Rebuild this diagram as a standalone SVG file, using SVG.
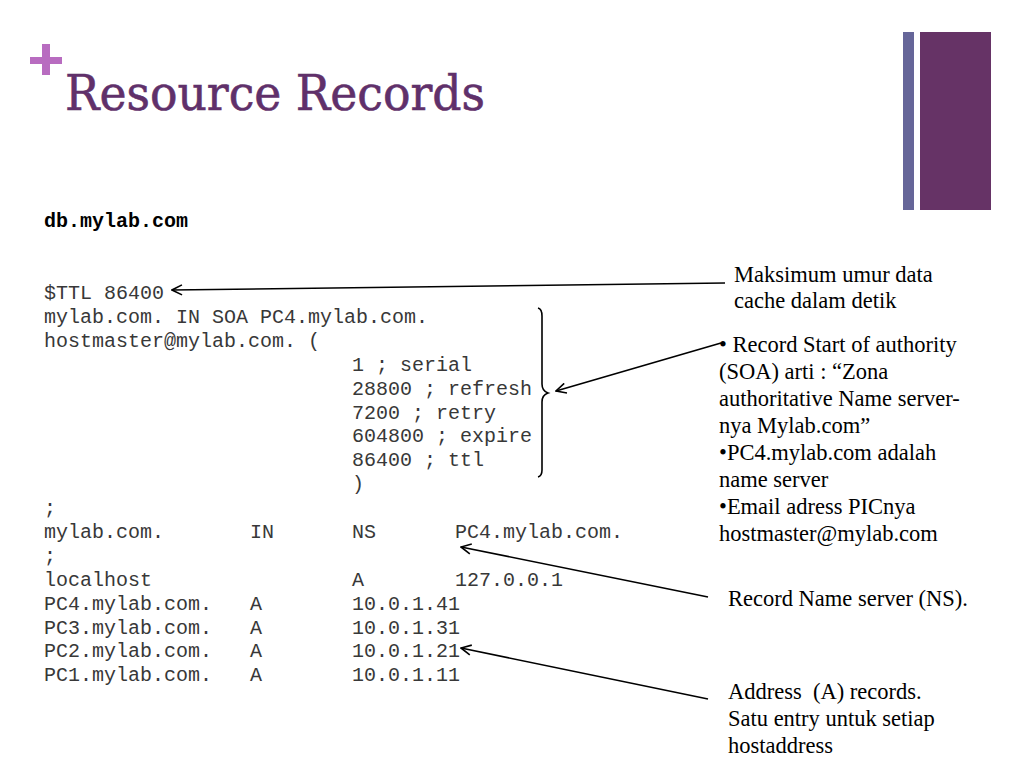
<svg xmlns="http://www.w3.org/2000/svg" width="1024" height="768" viewBox="0 0 1024 768">
<defs>
<style>
.mono{font-family:"Liberation Mono","Courier New",monospace;font-size:20px;fill:#383838;}
.bold{font-weight:bold;fill:#000;}
.note{font-family:"Liberation Serif","Times New Roman",serif;font-size:22.5px;fill:#000;}
.title{font-family:"DejaVu Serif","Liberation Serif",serif;font-size:48px;fill:#60306a;stroke:#60306a;stroke-width:0.6;}
.conn{fill:none;stroke:#000;stroke-width:1.6;}
</style>
<marker id="arr" viewBox="0 0 12 12" refX="11" refY="6" markerWidth="12" markerHeight="12" markerUnits="userSpaceOnUse" orient="auto">
<path d="M1,1 L11,6 L1,11" fill="none" stroke="#000" stroke-width="1.6"/>
</marker>
</defs>
<rect width="1024" height="768" fill="#fff"/>
<g id="header">
<rect x="30" y="57" width="32" height="7" fill="#b86cc0"/>
<rect x="42" y="44" width="8" height="31" fill="#b86cc0"/>
<text class="title" x="65" y="110" textLength="420" lengthAdjust="spacingAndGlyphs">Resource Records</text>
<rect x="903" y="32" width="11" height="178" fill="#666699"/>
<rect x="920" y="32" width="71" height="178" fill="#663366"/>
</g>
<g id="zonefile">
<text class="mono bold" x="44" y="227">db.mylab.com</text>
<text class="mono" x="44" y="299">$TTL 86400</text>
<text class="mono" x="44" y="323">mylab.com. IN SOA PC4.mylab.com.</text>
<text class="mono" x="44" y="347">hostmaster@mylab.com. (</text>
<text class="mono" x="352" y="371">1 ; serial</text>
<text class="mono" x="352" y="395">28800 ; refresh</text>
<text class="mono" x="352" y="419">7200 ; retry</text>
<text class="mono" x="352" y="442">604800 ; expire</text>
<text class="mono" x="352" y="466">86400 ; ttl</text>
<text class="mono" x="352" y="490">)</text>
<text class="mono" x="44" y="514">;</text>
<text class="mono" y="538"><tspan x="44">mylab.com.</tspan><tspan x="250">IN</tspan><tspan x="352">NS</tspan><tspan x="455">PC4.mylab.com.</tspan></text>
<text class="mono" x="44" y="562">;</text>
<text class="mono" y="586"><tspan x="44">localhost</tspan><tspan x="352">A</tspan><tspan x="455">127.0.0.1</tspan></text>
<text class="mono" y="610"><tspan x="44">PC4.mylab.com.</tspan><tspan x="250">A</tspan><tspan x="352">10.0.1.41</tspan></text>
<text class="mono" y="634"><tspan x="44">PC3.mylab.com.</tspan><tspan x="250">A</tspan><tspan x="352">10.0.1.31</tspan></text>
<text class="mono" y="657"><tspan x="44">PC2.mylab.com.</tspan><tspan x="250">A</tspan><tspan x="352">10.0.1.21</tspan></text>
<text class="mono" y="681"><tspan x="44">PC1.mylab.com.</tspan><tspan x="250">A</tspan><tspan x="352">10.0.1.11</tspan></text>
</g>
<g id="note-ttl">
<text class="note" x="734" y="282">Maksimum umur data</text>
<text class="note" x="734" y="308">cache dalam detik</text>
</g>
<g id="note-soa">
<text class="note" x="719" y="352">• Record Start of authority</text>
<text class="note" x="719" y="379">(SOA) arti : “Zona</text>
<text class="note" x="719" y="406">authoritative Name server-</text>
<text class="note" x="719" y="433">nya Mylab.com”</text>
<text class="note" x="719" y="460">•PC4.mylab.com adalah</text>
<text class="note" x="719" y="487">name server</text>
<text class="note" x="719" y="514">•Email adress PICnya</text>
<text class="note" x="719" y="541">hostmaster@mylab.com</text>
</g>
<g id="note-ns">
<text class="note" x="728" y="606">Record Name server (NS).</text>
</g>
<g id="note-a">
<text class="note" x="728" y="699">Address&#160; (A) records.</text>
<text class="note" x="728" y="726">Satu entry untuk setiap</text>
<text class="note" x="728" y="753">hostaddress</text>
</g>
<g id="connectors">
<path class="conn" d="M538,308 Q542,309 542,316 L542,384 Q542,391 548,393 Q542,395 542,402 L542,470 Q542,476 538,477"/>
<line class="conn" x1="725" y1="283" x2="172" y2="290" marker-end="url(#arr)"/>
<line class="conn" x1="721" y1="343" x2="556" y2="391" marker-end="url(#arr)"/>
<line class="conn" x1="708" y1="597" x2="461" y2="547" marker-end="url(#arr)"/>
<line class="conn" x1="708" y1="699" x2="461" y2="648" marker-end="url(#arr)"/>
</g>
</svg>
